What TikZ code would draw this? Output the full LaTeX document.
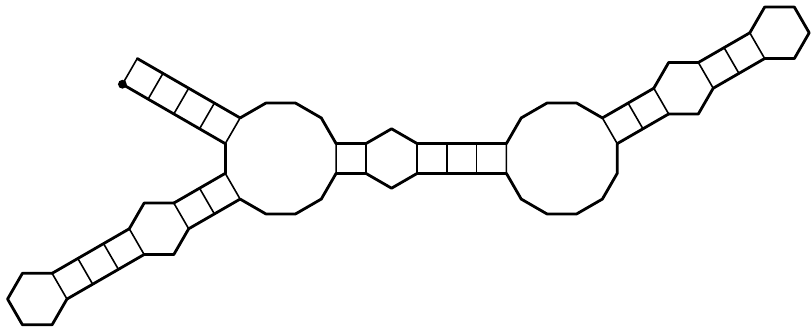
\documentclass[tikz,border=0pt]{standalone}
\begin{document}
\begin{tikzpicture}[x=1bp,y=1bp,
  bb/.style={line width=2.8bp, line cap=round, line join=round},
  bpair/.style={line width=1.6bp, line cap=round}]
\useasboundingbox (0,0) rectangle (812,329);
\pgfmathsetmacro{\s}{29.7}
\pgfmathsetmacro{\R}{\s/(2*sin(15))}
\pgfmathsetmacro{\a}{\R*cos(15)}
\pgfmathsetmacro{\h}{\s*sqrt(3)}
\pgfmathsetmacro{\hh}{\h/2}
\pgfmathsetmacro{\hs}{\s/2}
\pgfmathsetmacro{\cxa}{280.7}
\pgfmathsetmacro{\cxb}{\cxa+2*\a+4*\s+\h}
% ---- multiloop (left dodecagon)
\begin{scope}[shift={(\cxa,170.5)}]
  \foreach \k in {0,...,11} {\coordinate (A\k) at ({15+30*\k}:\R);}
\end{scope}
\draw[bb] (A0)--(A1)--(A2)--(A3)--(A4);
\draw[bb] (A5)--(A6);
\draw[bb] (A7)--(A8)--(A9)--(A10)--(A11);
\draw[bpair] (A4)--(A5) (A6)--(A7) (A11)--(A0);
% ---- internal loop (right dodecagon)
\begin{scope}[shift={(\cxb,170.5)}]
  \foreach \k in {0,...,11} {\coordinate (B\k) at ({15+30*\k}:\R);}
\end{scope}
\draw[bb] (B1)--(B2)--(B3)--(B4)--(B5);
\draw[bb] (B6)--(B7)--(B8)--(B9)--(B10)--(B11)--(B0);
\draw[bpair] (B5)--(B6) (B0)--(B1);
% ---- upper-left stem with 5' end
\begin{scope}[shift={(\cxa,170.5)}, rotate=150, shift={(\a,0)}]
  \draw[bb] (0,\hs)--(4*\s,\hs) (0,-\hs)--(4*\s,-\hs);
  \foreach \i in {1,...,4} {\draw[bpair] (\i*\s,\hs)--(\i*\s,-\hs);}
  \coordinate (five) at (4*\s,\hs);
\end{scope}
\fill (five) circle (4.4bp);
% ---- middle stem between the dodecagons
\begin{scope}[shift={(\cxa,170.5)}, shift={(\a,0)}]
  \draw[bb] (0,\hs)--(\s,\hs) (0,-\hs)--(\s,-\hs);
  \draw[bpair] (\s,\hs)--(\s,-\hs);
  \draw[bb] (\s,\hs)--(\s+\hh,\s)--(\s+\h,\hs) (\s,-\hs)--(\s+\hh,-\s)--(\s+\h,-\hs);
  \draw[bb] (\s+\h,\hs)--(4*\s+\h,\hs) (\s+\h,-\hs)--(4*\s+\h,-\hs);
  \foreach \i in {0,...,2} {\draw[bpair] (\s+\h+\i*\s,\hs)--(\s+\h+\i*\s,-\hs);}
\end{scope}
% ---- lower-left stem with hairpin
\begin{scope}[shift={(\cxa,170.5)}, rotate=210, shift={(\a,0)}]
  \draw[bb] (0,\hs)--(2*\s,\hs) (0,-\hs)--(2*\s,-\hs);
  \foreach \i in {1,2} {\draw[bpair] (\i*\s,\hs)--(\i*\s,-\hs);}
  \draw[bb] (2*\s,\hs)--(2*\s+\hh,\s)--(2*\s+\h,\hs) (2*\s,-\hs)--(2*\s+\hh,-\s)--(2*\s+\h,-\hs);
  \draw[bb] (2*\s+\h,\hs)--(5*\s+\h,\hs) (2*\s+\h,-\hs)--(5*\s+\h,-\hs);
  \foreach \i in {0,...,3} {\draw[bpair] (2*\s+\h+\i*\s,\hs)--(2*\s+\h+\i*\s,-\hs);}
  \draw[bb] (5*\s+\h,\hs)--(5*\s+\h+\hh,\s)--(5*\s+2*\h,\hs)--(5*\s+2*\h,-\hs)--(5*\s+\h+\hh,-\s)--(5*\s+\h,-\hs);
\end{scope}
% ---- right stem with hairpin
\begin{scope}[shift={(\cxb,170.5)}, rotate=30, shift={(\a,0)}]
  \draw[bb] (0,\hs)--(2*\s,\hs) (0,-\hs)--(2*\s,-\hs);
  \foreach \i in {1,2} {\draw[bpair] (\i*\s,\hs)--(\i*\s,-\hs);}
  \draw[bb] (2*\s,\hs)--(2*\s+\hh,\s)--(2*\s+\h,\hs) (2*\s,-\hs)--(2*\s+\hh,-\s)--(2*\s+\h,-\hs);
  \draw[bb] (2*\s+\h,\hs)--(4*\s+\h,\hs) (2*\s+\h,-\hs)--(4*\s+\h,-\hs);
  \foreach \i in {0,...,2} {\draw[bpair] (2*\s+\h+\i*\s,\hs)--(2*\s+\h+\i*\s,-\hs);}
  \draw[bb] (4*\s+\h,\hs)--(4*\s+\h+\hh,\s)--(4*\s+2*\h,\hs)--(4*\s+2*\h,-\hs)--(4*\s+\h+\hh,-\s)--(4*\s+\h,-\hs);
\end{scope}
\end{tikzpicture}
\end{document}
